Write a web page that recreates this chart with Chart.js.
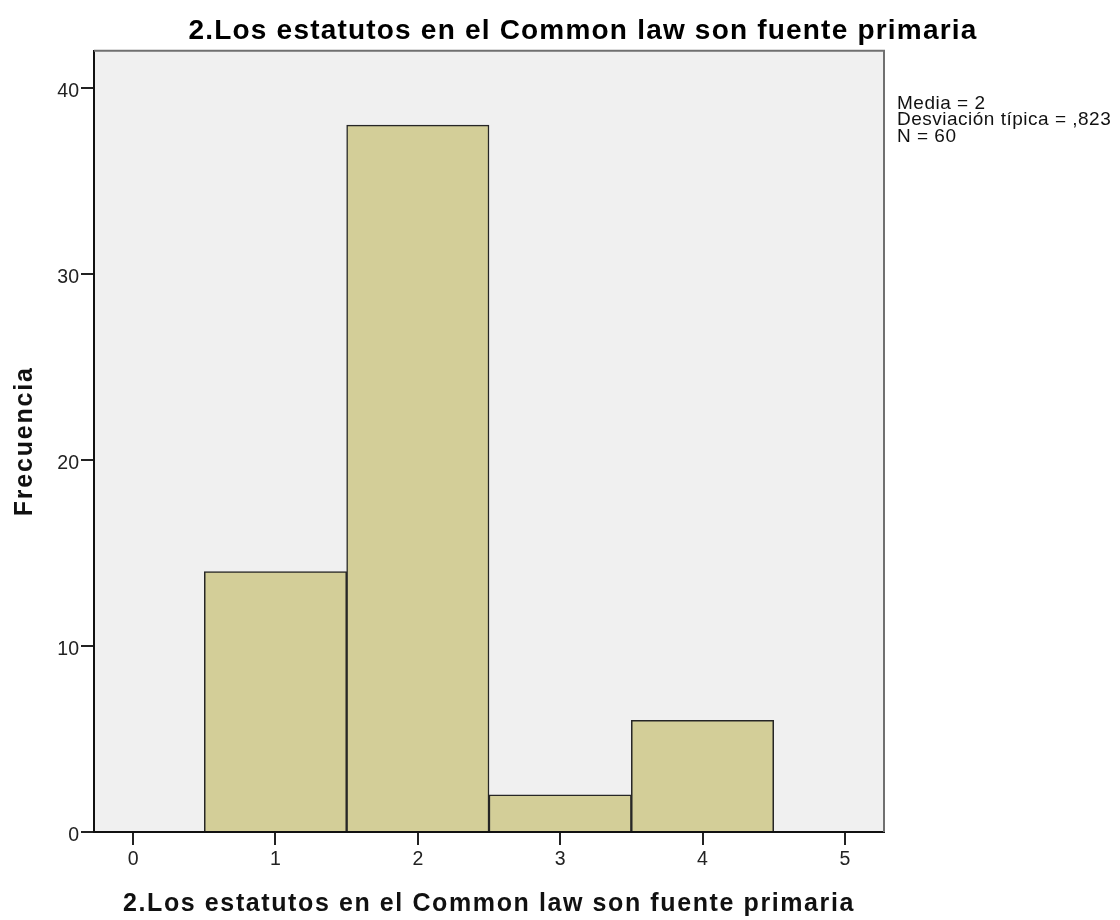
<!DOCTYPE html>
<html>
<head>
<meta charset="utf-8">
<script src="https://cdn.jsdelivr.net/npm/chart.js@4.4.1/dist/chart.umd.min.js"></script>
<style>
html,body{margin:0;padding:0;background:#fff;}
#wrap{width:1120px;height:920px;position:relative;}
</style>
</head>
<body>
<div id="wrap"><canvas id="c" width="1120" height="920"></canvas></div>
<script>
const chartTitle = "2.Los estatutos en el Common law son fuente primaria";
const xAxisTitle = "2.Los estatutos en el Common law son fuente primaria";
const yAxisTitle = "Frecuencia";
const binCenters = [1, 2, 3, 4];
const frequencies = [14, 38, 2, 6];
const statsLines = ["Media = 2", "Desviación típica = ,823", "N = 60"];

const FONT = "'Liberation Sans', Arial, sans-serif";

const decorPlugin = {
  id: 'decor',
  beforeDraw(chart) {
    const {ctx, chartArea: a} = chart;
    ctx.save();
    ctx.fillStyle = '#F0F0F0';
    ctx.fillRect(a.left, a.top, a.right - a.left, a.bottom - a.top);
    ctx.restore();
  },
  afterDraw(chart) {
    const {ctx, chartArea: a} = chart;
    ctx.save();
    ctx.strokeStyle = '#707070';
    ctx.lineWidth = 2;
    ctx.beginPath();
    ctx.moveTo(a.left, a.top);
    ctx.lineTo(a.right, a.top);
    ctx.lineTo(a.right, a.bottom);
    ctx.stroke();

    // chart title
    ctx.fillStyle = '#000';
    ctx.font = "bold 28px " + FONT;
    ctx.letterSpacing = '1.2px';
    ctx.textAlign = 'center';
    ctx.textBaseline = 'alphabetic';
    ctx.fillText(chartTitle, 583, 39);

    // x axis title
    ctx.font = "bold 25px " + FONT;
    ctx.letterSpacing = '1.6px';
    ctx.fillStyle = '#111';
    ctx.fillText(xAxisTitle, (a.left + a.right) / 2, 911);

    // y axis title
    ctx.save();
    ctx.translate(32, (a.top + a.bottom) / 2);
    ctx.rotate(-Math.PI / 2);
    ctx.letterSpacing = '1.8px';
    ctx.fillText(yAxisTitle, 0, 0);
    ctx.restore();

    // stats annotation
    ctx.font = "19px " + FONT;
    ctx.letterSpacing = '0.5px';
    ctx.fillStyle = '#111';
    ctx.textAlign = 'left';
    statsLines.forEach((s, i) => ctx.fillText(s, 897, 108.5 + i * 16.5));
    ctx.restore();
  }
};

new Chart(document.getElementById('c'), {
  type: 'bar',
  data: {
    datasets: [{
      data: binCenters.map((x, i) => ({x: x, y: frequencies[i]})),
      backgroundColor: '#D3CE98',
      borderColor: '#262626',
      borderWidth: 1.5,
      barPercentage: 1,
      categoryPercentage: 1
    }]
  },
  options: {
    responsive: false,
    animation: false,
    layout: {padding: {left: 0, right: 236, top: 50.7, bottom: 0}},
    plugins: {legend: {display: false}, tooltip: {enabled: false}},
    scales: {
      x: {
        type: 'linear',
        min: -0.275,
        max: 5.275,
        offset: false,
        grid: {offset: false, drawOnChartArea: false, drawTicks: true, tickLength: 13, color: '#222', lineWidth: 2},
        border: {display: true, color: '#111', width: 2},
        ticks: {stepSize: 1, includeBounds: false, color: '#222', font: {family: FONT, size: 19.5}, padding: 3, maxRotation: 0},
        title: {display: false, text: xAxisTitle},
        afterFit(s) { s.height = 88; }
      },
      y: {
        min: 0,
        max: 42,
        grid: {drawOnChartArea: false, drawTicks: true, tickLength: 13, color: '#222', lineWidth: 2},
        border: {display: true, color: '#111', width: 2},
        ticks: {stepSize: 10, includeBounds: false, color: '#222', font: {family: FONT, size: 19.5}, padding: 2, labelOffset: 4},
        title: {display: false, text: yAxisTitle},
        afterFit(s) { s.width = 94; }
      }
    }
  },
  plugins: [decorPlugin]
});
</script>
</body>
</html>
